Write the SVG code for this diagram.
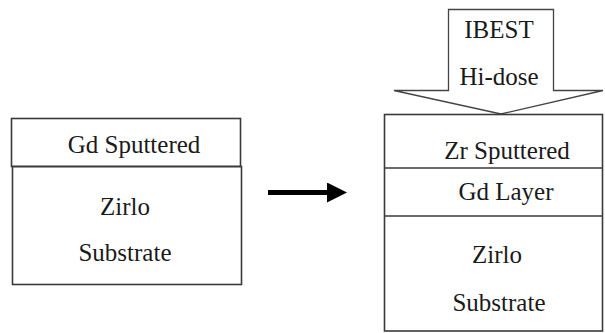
<svg xmlns="http://www.w3.org/2000/svg" width="605" height="333" viewBox="0 0 605 333">
  <style>
    .box { fill: none; stroke: #3a3a3a; stroke-width: 1.6; }
    .beam { fill: #ffffff; stroke: #444444; stroke-width: 1.3; stroke-linejoin: miter; }
    .lbl { font-size: 25px; fill: #1a1a1a; text-anchor: middle; }
  </style>
  <defs>
    <marker id="head" markerWidth="4" markerHeight="4" refX="0" refY="2" orient="auto" markerUnits="strokeWidth">
      <path d="M0,0 L4,2 L0,4 Z" fill="#000000"/>
    </marker>
  </defs>
  <rect width="605" height="333" fill="#ffffff"/>

  <g font-family="Liberation Serif, Times New Roman, Tinos, serif">
  <!-- starting stack: sputtered Gd on Zirlo -->
  <g id="stack-before">
    <rect class="box" x="11.5" y="118.5" width="229" height="48"/>
    <rect class="box" x="12.5" y="166.5" width="229" height="118"/>
    <text class="lbl" x="134" y="153">Gd Sputtered</text>
    <text class="lbl" x="125" y="215">Zirlo</text>
    <text class="lbl" x="125" y="261">Substrate</text>
  </g>

  <!-- process step arrow -->
  <g id="connectors">
    <line x1="268" y1="192.5" x2="327" y2="192.5" stroke="#000000" stroke-width="5" marker-end="url(#head)"/>
  </g>

  <!-- ion beam block arrow -->
  <g id="beam">
    <path class="beam" d="M448.5,9.5 L553.5,9.5 L553.5,90.5 L603,90.5 L501,114 L394,90.5 L448.5,90.5 Z"/>
    <text class="lbl" x="499" y="38">IBEST</text>
    <text class="lbl" x="499" y="85">Hi-dose</text>
  </g>

  <!-- resulting stack after treatment -->
  <g id="stack-after">
    <rect class="box" x="384.5" y="114.5" width="218" height="216.5"/>
    <line class="box" x1="384.5" y1="168" x2="602.5" y2="168"/>
    <line class="box" x1="384.5" y1="216" x2="602.5" y2="216"/>
    <text class="lbl" x="507" y="159">Zr Sputtered</text>
    <text class="lbl" x="506" y="200">Gd Layer</text>
    <text class="lbl" x="497" y="263">Zirlo</text>
    <text class="lbl" x="499" y="311">Substrate</text>
  </g>
  </g>
</svg>
